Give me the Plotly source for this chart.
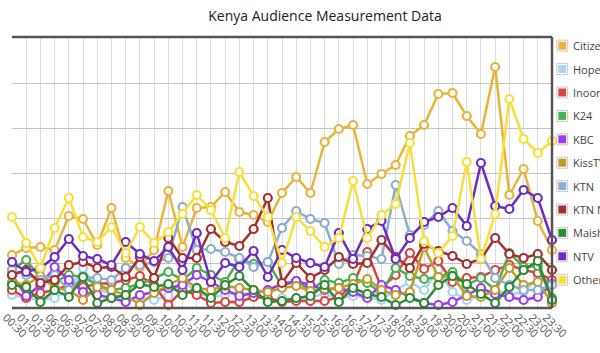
import plotly.graph_objects as go

times = ["00:30", "01:00", "01:30", "06:00", "06:30", "07:00", "07:30", "08:00", "08:30",
         "09:00", "09:30", "10:00", "10:30", "11:00", "11:30", "12:00", "12:30", "13:00",
         "13:30", "14:00", "14:30", "15:00", "15:30", "16:00", "16:30", "17:00", "17:30",
         "18:00", "18:30", "19:00", "19:30", "20:00", "20:30", "21:00", "21:30", "22:00",
         "22:30", "23:00", "23:30"]

stations = ["Citizen", "Hope", "Inooro", "K24", "KBC", "KissTV", "KTN", "KTN News",
            "Maisha", "NTV", "Other"]

citizen = [53, 60, 61, 58, 92, 89, 63, 100, 50, 41, 58, 117, 61, 100, 101, 116, 96, 93, 86, 115,
           131, 115, 166, 179, 183, 124, 134, 143, 172, 183, 214, 215, 192, 174, 241, 113, 139, 87, 58]
hope = [13, 10, 8, 10, 18, 40, 18, 15, 8, 11, 8, 12, 28, 15, 11, 13, 16, 12, 8, 10,
        8, 11, 14, 10, 12, 11, 8, 18, 26, 18, 38, 16, 8, 12, 18, 13, 16, 30, 26]
inooro = [18, 10, 15, 18, 23, 21, 24, 25, 28, 32, 23, 3, 18, 13, 5, 6, 6, 11, 10, 6,
          7, 7, 7, 11, 23, 56, 20, 33, 55, 39, 47, 26, 30, 31, 38, 43, 38, 35, 28]
k24 = [38, 48, 30, 26, 33, 31, 23, 18, 20, 24, 30, 36, 28, 40, 33, 26, 49, 44, 46, 22,
       27, 18, 28, 25, 30, 25, 15, 40, 32, 29, 31, 36, 23, 30, 18, 55, 41, 42, 10]
kbc = [33, 12, 23, 41, 28, 16, 13, 10, 6, 13, 16, 20, 23, 33, 26, 18, 12, 15, 18, 24,
       27, 23, 18, 20, 16, 10, 23, 18, 11, 5, 3, 6, 13, 20, 14, 11, 8, 11, 24]
kisstv = [26, 23, 32, 20, 18, 8, 21, 18, 13, 3, 15, 23, 30, 20, 18, 22, 20, 18, 16, 20,
          22, 17, 19, 20, 24, 29, 18, 13, 16, 61, 31, 32, 12, 11, 18, 40, 23, 26, 5]
ktn = [38, 33, 28, 33, 18, 31, 30, 28, 40, 43, 46, 50, 101, 58, 59, 56, 50, 41, 46, 80,
       97, 89, 85, 44, 53, 52, 49, 123, 73, 83, 97, 77, 67, 54, 30, 23, 18, 18, 23]
ktn_news = [33, 38, 25, 28, 43, 46, 40, 41, 31, 51, 30, 70, 50, 50, 79, 66, 62, 79, 110, 25,
            45, 30, 38, 51, 44, 45, 68, 51, 40, 64, 57, 52, 44, 49, 70, 54, 50, 54, 38]
maisha = [23, 21, 6, 18, 11, 31, 5, 10, 13, 24, 21, 24, 13, 20, 10, 23, 32, 18, 6, 7,
          10, 12, 23, 6, 20, 14, 11, 3, 10, 5, 23, 32, 24, 14, 5, 21, 38, 47, 8]
ntv = [46, 36, 40, 51, 69, 52, 49, 43, 66, 54, 47, 61, 38, 75, 26, 45, 41, 57, 31, 58,
       50, 45, 41, 75, 49, 79, 87, 49, 70, 86, 91, 100, 82, 145, 102, 99, 118, 110, 68]
other = [91, 65, 40, 80, 110, 71, 66, 81, 55, 81, 65, 76, 94, 113, 98, 70, 136, 112, 91, 45,
         91, 77, 61, 70, 127, 70, 93, 104, 165, 67, 55, 72, 146, 49, 94, 209, 169, 155, 167]

series = [citizen, hope, inooro, k24, kbc, kisstv, ktn, ktn_news, maisha, ntv, other]
colors = ["#EAB43C", "#A6D4F2", "#D8463F", "#4BAE4F", "#9B3CF0", "#C49A2C",
          "#8CAECF", "#A3302E", "#2E8A36", "#6E2DC0", "#F7E03C"]

W, H = 600, 353
L, R, T, B = 0, 48, 37, 45

fig = go.Figure()
for name, vals, col in zip(stations, series, colors):
    fig.add_trace(go.Scatter(
        x=times, y=vals, name=name, mode="lines+markers",
        line=dict(color=col, width=2.5),
        marker=dict(symbol="circle", size=8, color="white", line=dict(color=col, width=2.2)),
        cliponaxis=False, showlegend=False))

shapes = []
annotations = []
frame = dict(type="line", xref="paper", yref="paper", line=dict(color="#555555", width=2.5))
shapes.append(dict(frame, x0=0, x1=1, y0=1, y1=1))
shapes.append(dict(frame, x0=1, x1=1, y0=0, y1=1))
shapes.append(dict(frame, x0=0, x1=1, y0=0, y1=0))

pw = W - L - R
ph = H - T - B
def px(xp):
    return (xp - L) / pw
def py(yp):
    return 1 - (yp - T) / ph

for k, (name, col) in enumerate(zip(stations, colors)):
    yc = 45.7 + 23.4 * k
    shapes.append(dict(type="rect", xref="paper", yref="paper",
                       x0=px(557), x1=px(568), y0=py(yc + 5.5), y1=py(yc - 5.5),
                       line=dict(color="#c8c8c8", width=1), fillcolor="white"))
    shapes.append(dict(type="rect", xref="paper", yref="paper",
                       x0=px(558.5), x1=px(566.5), y0=py(yc + 4), y1=py(yc - 4),
                       line=dict(width=0), fillcolor=col))
    annotations.append(dict(x=px(571), y=py(yc), xref="paper", yref="paper",
                            text=name, showarrow=False, xanchor="left", yanchor="middle",
                            font=dict(family="Open Sans", size=11, color="#444444")))

fig.update_layout(
    width=W, height=H,
    margin=dict(l=L, r=R, t=T, b=B, pad=0),
    paper_bgcolor="white", plot_bgcolor="white",
    title=dict(text="Kenya Audience Measurement Data", x=325 / W, xref="container",
               xanchor="center", y=1 - 16 / H, yref="container", yanchor="middle",
               font=dict(family="Open Sans", size=14, color="#222222")),
    font=dict(family="Open Sans", color="#555555"),
    showlegend=False,
    shapes=shapes,
    annotations=annotations,
    xaxis=dict(type="category", range=[0, len(times) - 1], showgrid=True,
               gridcolor="#dcdcdc", gridwidth=1, tickangle=45, ticks="",
               ticklabelshift=-6,
               tickfont=dict(family="Open Sans", size=11, color="#555555"),
               showline=False, zeroline=False, fixedrange=True),
    yaxis=dict(range=[0, 271], dtick=45, showgrid=True, gridcolor="#c4c4c4",
               gridwidth=1, showticklabels=False, ticks="", zeroline=False,
               showline=False, fixedrange=True),
)

fig.write_html("out.html")
